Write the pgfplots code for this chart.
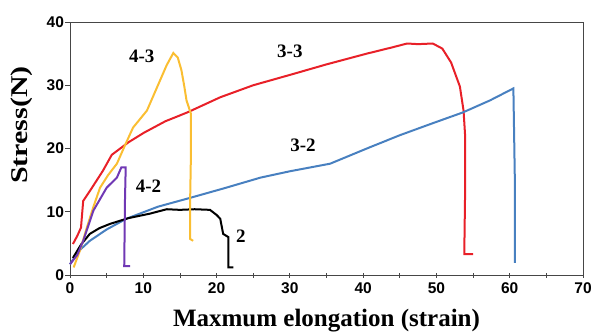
\documentclass[border=0pt]{standalone}
\usepackage{pgfplots}
\pgfplotsset{compat=1.18}
\usepackage{fontspec}
\setmainfont{Liberation Serif}
\setsansfont{Liberation Sans}
\definecolor{cred}{RGB}{232,32,40}
\definecolor{cblue}{RGB}{72,128,192}
\definecolor{corange}{RGB}{250,190,50}
\definecolor{cpurple}{RGB}{112,56,180}
\definecolor{frame}{RGB}{70,70,70}
\begin{document}
\begin{tikzpicture}
\begin{axis}[
  at={(0,0)}, anchor=south west,
  scale only axis, width=513pt, height=253pt,
  xmin=0, xmax=70, ymin=0, ymax=40,
  xtick={0,10,...,70}, ytick={0,10,...,40},
  minor xtick={5,15,...,65},
  tick style={frame, line width=0.8pt},
  major tick length=5pt, minor tick length=5pt,
  xtick pos=bottom, ytick pos=left,
  tick align=center,
  y tick style={xshift=-2.5pt},
  axis line style={frame, line width=1pt},
  ticklabel style={font=\sffamily\bfseries\fontsize{15.5}{15.5}\selectfont},
  /pgf/number format/assume math mode=true,
  xticklabel style={yshift=-2pt},
  clip=false,
]
\addplot[cred, line width=2pt] coordinates {
(0.4,4.9) (1.0,6.2) (1.5,7.5) (1.8,11.7) (3.0,13.8) (4.5,16.5) (5.7,19.0) (8,21.0) (10.1,22.5) (13,24.3) (16,25.7) (20.5,28.1) (25,30) (30.2,31.7) (35,33.3) (40.5,35) (44,36) (46,36.6) (47.5,36.5) (49.5,36.6) (50.8,35.8) (52.0,33.6) (53.2,29.8) (53.7,26) (53.9,22.3) (53.9,12) (53.8,3.3) (55,3.3)
};
\addplot[cblue, line width=2pt] coordinates {
(0,1.7) (1.2,3.8) (2.7,5.4) (5,7.2) (7.7,8.9) (12,10.8) (16.4,12.2) (21,13.7) (26,15.4) (30,16.4) (35.5,17.6) (40.5,20) (45,22.1) (49.5,24) (53.6,25.7) (57.3,27.6) (60.5,29.5) (60.7,15) (60.7,1.9)
};
\addplot[black, line width=2pt] coordinates {
(0.4,2.7) (1.5,4.8) (2.7,6.5) (4,7.4) (5.5,8.1) (8,9.0) (10.9,9.7) (13.2,10.4) (15,10.3) (17,10.4) (19.1,10.3) (20.0,9.5) (20.5,8.9) (20.9,6.5) (21.6,6.0) (21.6,1.2) (22.3,1.2)
};
\addplot[corange, line width=2pt] coordinates {
(0.5,1.2) (1.4,4.0) (2.3,7.5) (3.2,10.8) (4.1,13.8) (5.2,15.8) (6.4,17.6) (7.5,20.5) (8.6,23.3) (10.5,26) (12.3,30.8) (13.2,33.2) (14.1,35.1) (14.7,34.4) (15.2,32.4) (15.6,29.8) (15.9,27.6) (16.5,25.5) (16.5,19) (16.4,12.3) (16.4,5.7) (16.8,5.4)
};
\addplot[cpurple, line width=2pt] coordinates {
(0,1.7) (1.0,3.2) (1.8,5.4) (2.5,7.8) (3.2,10.2) (4.1,12.0) (5,13.8) (6.4,15.4) (7,17) (7.6,17) (7.5,11.7) (7.4,1.4) (8.2,1.4)
};
\begin{scope}[font=\bfseries\fontsize{19}{19}\selectfont]
\node at (axis cs:9.8,34.5) {4-3};
\node at (axis cs:30,35.4) {3-3};
\node at (axis cs:31.8,20.5) {3-2};
\node at (axis cs:10.7,14) {4-2};
\node at (axis cs:23.3,6.2) {2};
\end{scope}
\node[anchor=base, font=\bfseries\fontsize{25}{25}\selectfont] at (axis description cs:0.5,-0.205) {Maxmum elongation (strain)};
\node[rotate=90, font=\bfseries\fontsize{24}{24}\selectfont] at (axis description cs:-0.094,0.593) {\scalebox{1.25}[1]{Stress(N)}};
\end{axis}
\pgfresetboundingbox
\path[use as bounding box] (-70pt,-58pt) rectangle (523pt,275pt);
\end{tikzpicture}
\end{document}
